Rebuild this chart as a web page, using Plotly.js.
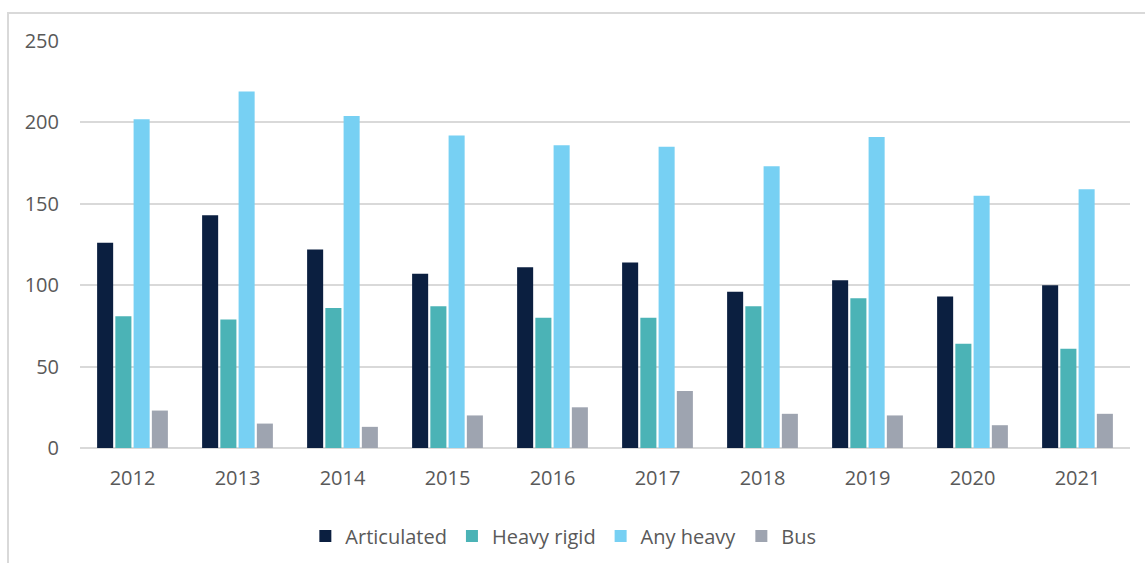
<!DOCTYPE html>
<html>
<head>
<meta charset="utf-8">
<script src="https://cdn.plot.ly/plotly-3.0.1.min.js"></script>
<style>
  html, body { margin: 0; padding: 0; background: #ffffff; }
  #wrap { position: relative; width: 1145px; height: 563px; overflow: hidden; }
  #frame { position: absolute; left: 7px; top: 12px; width: 1150px; height: 560px;
           border-left: 2px solid #D9D9D9; border-top: 2px solid #D9D9D9; box-sizing: border-box; pointer-events: none; }
  #chart { position: absolute; left: 0; top: 0; width: 1145px; height: 563px; }
</style>
</head>
<body>
<div id="wrap">
  <div id="chart"></div>
  <div id="frame"></div>
</div>
<script>
const years = ['2012','2013','2014','2015','2016','2017','2018','2019','2020','2021'];
const articulated = [126, 143, 122, 107, 111, 114, 96, 103, 93, 100];
const heavyRigid  = [81, 79, 86, 87, 80, 80, 87, 92, 64, 61];
const anyHeavy    = [202, 219, 204, 192, 186, 185, 173, 191, 155, 159];
const bus         = [23, 15, 13, 20, 25, 35, 21, 20, 14, 21];
const yTicks = [0, 50, 100, 150, 200, 250];

const seriesNames  = ['Articulated', 'Heavy rigid', 'Any heavy', 'Bus'];
const seriesValues = [articulated, heavyRigid, anyHeavy, bus];
const seriesColors = ['#0B1F40', '#4BB3B6', '#77D0F3', '#9EA4B0'];

const traces = seriesNames.map((name, i) => ({
  type: 'bar',
  name: name,
  x: years,
  y: seriesValues[i],
  marker: { color: seriesColors[i], line: { width: 0 } },
  hoverinfo: 'x+y+name'
}));

const layout = {
  width: 1145,
  height: 563,
  margin: { l: 80, r: 15, t: 41, b: 115 },
  paper_bgcolor: '#ffffff',
  plot_bgcolor: '#ffffff',
  font: { family: '"Open Sans", "Liberation Sans", sans-serif', size: 20, color: '#595959' },
  barmode: 'group',
  bargap: 0.305,
  bargroupgap: 0.12,
  xaxis: {
    type: 'category',
    showgrid: false,
    showline: false,
    ticks: '',
    ticklabelstandoff: 16,
    tickfont: { size: 20, color: '#595959' },
    fixedrange: true
  },
  yaxis: {
    range: [0, 250],
    autorange: false,
    tickvals: yTicks,
    ticktext: yTicks.map(String),
    showgrid: true,
    gridcolor: '#D9D9D9',
    gridwidth: 1.5,
    zeroline: true,
    zerolinecolor: '#D9D9D9',
    zerolinewidth: 2,
    showline: false,
    ticks: '',
    ticklabelstandoff: 20,
    tickfont: { size: 20, color: '#595959' },
    fixedrange: true
  },
  legend: {
    orientation: 'h',
    xref: 'container',
    yref: 'container',
    x: 0.492,
    xanchor: 'center',
    y: 0.048,
    yanchor: 'middle',
    font: { size: 20, color: '#595959' },
    itemclick: false,
    itemdoubleclick: false,
    traceorder: 'normal'
  },
  showlegend: true
};

Plotly.newPlot('chart', traces, layout, { displayModeBar: false, staticPlot: false });
</script>
</body>
</html>
